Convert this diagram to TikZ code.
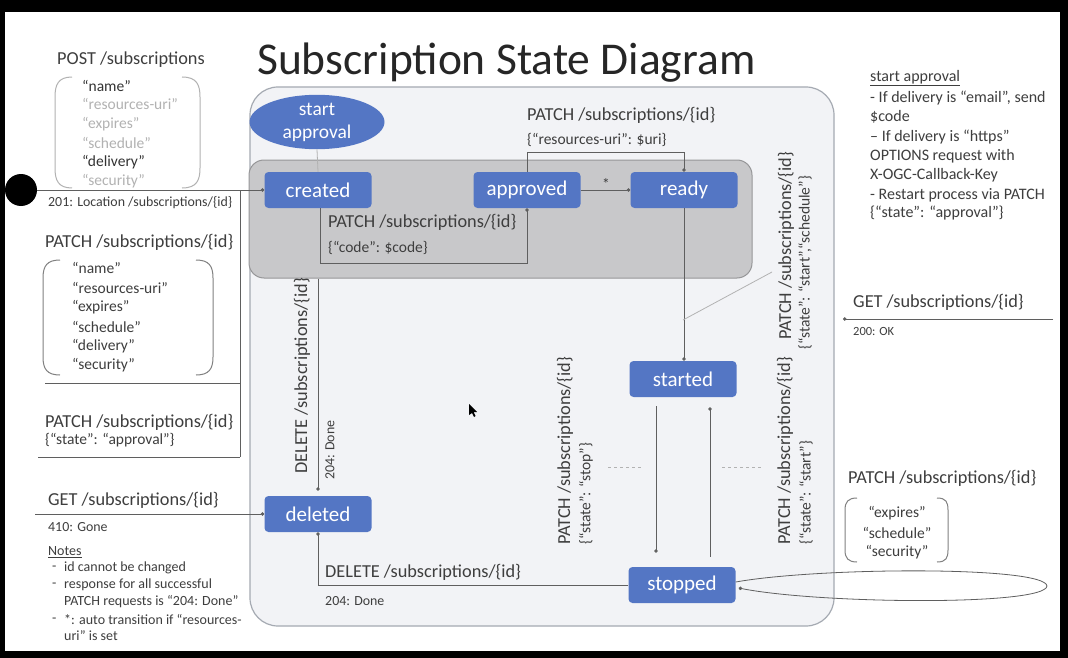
\documentclass[tikz,border=0pt]{standalone}
\usepackage{fontspec}
\setmainfont{Carlito}
\usetikzlibrary{arrows.meta,shapes.geometric}
\definecolor{stateblue}{RGB}{84,118,196}
\definecolor{txt}{RGB}{62,62,62}
\definecolor{lite}{RGB}{178,178,178}
\definecolor{lnc}{RGB}{95,95,95}
\definecolor{contfill}{RGB}{242,243,246}
\definecolor{contdraw}{RGB}{165,170,178}
\definecolor{grpfill}{RGB}{200,200,202}
\definecolor{grpdraw}{RGB}{150,150,152}
\newcommand{\fsz}[2]{\fontsize{#1}{#2}\selectfont}
\begin{document}
\begin{tikzpicture}[x=1pt,y=-1pt,
  statebox/.style={fill=stateblue, rounded corners=4pt, minimum width=107pt, minimum height=36pt, text=white, font=\fsz{21}{25}, inner sep=0pt},
  lbl/.style={text=txt, anchor=west, inner sep=0pt, font=\fsz{18.3}{21}},
  midl/.style={lbl, font=\fsz{15.5}{18}},
  smalll/.style={lbl, font=\fsz{13.9}{16}},
  notel/.style={lbl, font=\fsz{14}{16}},
  rnotel/.style={lbl, font=\fsz{16}{18}},
  conn/.style={draw=lnc, line width=0.8pt, -{Circle[length=3.5pt]}},
  plainln/.style={draw=lnc, line width=0.8pt},
  liteln/.style={draw=lite, line width=0.8pt},
  brace/.style={draw=lite, line width=1pt}
]
\useasboundingbox (0,0) rectangle (1068,658);
\fill[black] (0,0) rectangle (1068,658);
\fill[white] (5,12) rectangle (1060,651);

% title
\node[lbl, anchor=base west, font=\fsz{45.5}{50}, text=black!85] (title) at (257,75) {Subscription State Diagram};

% container
\draw[draw=contdraw, fill=contfill, line width=1.2pt, rounded corners=28pt] (250,87) rectangle (834,626);
\node[draw=grpdraw, fill=grpfill, line width=1pt, rounded corners=15pt, minimum width=503pt, minimum height=118pt, inner sep=0pt] (group) at (500.5,219) {};

% states
\node[statebox] (created) at (318,190) {created};
\node[statebox] (approved) at (527,190) {approved};
\node[statebox] (ready) at (684,190) {ready};
\node[statebox] (started) at (683,379) {started};
\node[statebox] (stopped) at (682,585) {stopped};
\node[statebox] (deleted) at (318,514) {deleted};
\node[ellipse, fill=stateblue, minimum width=135pt, minimum height=51pt, inner sep=0pt, text=white, align=center, font=\fsz{19.5}{23}] (startap) at (317,122) {start\\approval};

% initial
\node[circle, fill=black, minimum size=32pt, inner sep=0pt] (init) at (21,190) {};
\draw[conn] (init) -- (created);

% left connectors
\coordinate (lv1) at (240,190);
\coordinate (lv2) at (240,457);
\coordinate (lh1) at (45,383);
\coordinate (lh1e) at (240,383);
\coordinate (lh2) at (38,457);
\draw[plainln] (lv1) -- (lv2);
\draw[plainln] (lh1) -- (lh1e);
\draw[plainln] (lh2) -- (lv2);

% start approval to created
\draw[liteln] (startap.south) -- (created.north);

% created -> approved
\draw[conn] ([xshift=2pt]created.south) -- ([xshift=2pt]created.south |- 0,263) -| (approved.south);
% approved -> ready top
\draw[conn] (approved.north) -- (approved.north |- 0,152) -| (ready.north);
% approved -> ready
\draw[conn] (approved) -- (ready);
\node[midl, anchor=center] (star) at (606,184) {*};
% ready -> started
\draw[conn] (ready.south) -- (ready.south |- started.north);
% started <-> stopped
\draw[conn, shorten <=9pt, shorten >=14pt] ([xshift=-27pt]started.south) -- ([xshift=-27pt]started.south |- stopped.north);
\draw[conn, shorten <=10pt, shorten >=10pt] ([xshift=28pt]stopped.north) -- ([xshift=28pt]stopped.north |- started.south);
% delete edges
\draw[conn, shorten >=5pt] (group.south -| deleted) -- (deleted.north);
\draw[conn] (stopped.west) -| (deleted.south);
% GET left
\coordinate (getL) at (35,514);
\draw[conn] (getL) -- (deleted.west);
% GET right
\coordinate (getR) at (1053,319);
\coordinate (getRe) at (843,319);
\draw[conn] (getR) -- (getRe);
% stopped self loop
\draw[conn] ([yshift=3pt]stopped.east) .. controls (820,567) and (1045,566) .. (1047,586) .. controls (1045,606) and (820,604) .. ([yshift=-3pt,xshift=3pt]stopped.east);

% dashed and diagonal
\draw[liteln, dashed] (608,467) -- (643,467);
\draw[liteln, dashed] (722,467) -- (763,467);
\draw[liteln] (683,320) -- (772,272);

% labels in diagram
\node[lbl] (l1) at (328,222) {PATCH /subscriptions/\{id\}};
\node[midl] (l2) at (328,248) {\{“code”: \$code\}};
\node[lbl] (l3) at (527,115) {PATCH /subscriptions/\{id\}};
\node[midl] (l4) at (527,140) {\{“resources-uri”: \$uri\}};
\node[lbl, rotate=90] (l5) at (302,474) {DELETE /subscriptions/\{id\}};
\node[smalll, rotate=90] (l6) at (330,480) {204: Done};
\node[lbl] (l7) at (325,572) {DELETE /subscriptions/\{id\}};
\node[smalll] (l8) at (325,601) {204: Done};
\node[lbl, rotate=90] (l9) at (565,545) {PATCH /subscriptions/\{id\}};
\node[midl, rotate=90] (l10) at (586,545) {\{“state”: “stop”\}};
\node[lbl, rotate=90] (l11) at (785,545) {PATCH /subscriptions/\{id\}};
\node[midl, rotate=90] (l12) at (806,545) {\{“state”: “start”\}};
\node[lbl, rotate=90] (l13) at (786,340) {PATCH /subscriptions/\{id\}};
\node[midl, rotate=90] (l14) at (805,350) {\{“state”: “start”,“schedule”\}};

% left column
\node[lbl] (post) at (57,60) {POST /subscriptions};
\draw[brace] (72,77) .. controls (58,77) and (55,85) .. (55,97) -- (55,168) .. controls (55,180) and (58,188) .. (72,188);
\draw[brace] (182,77) .. controls (197,77) and (200,85) .. (200,97) -- (200,168) .. controls (200,180) and (197,188) .. (182,188);
\node[midl, text=black!80] (p1) at (82,86) {“name”};
\node[midl, text=lite] (p2) at (82,104) {“resources-uri”};
\node[midl, text=lite] (p3) at (82,124) {“expires”};
\node[midl, text=lite] (p4) at (82,143) {“schedule”};
\node[midl, text=black!80] (p5) at (82,162) {“delivery”};
\node[midl, text=lite] (p6) at (82,181) {“security”};
\node[smalll] (loc) at (48,203) {201: Location /subscriptions/\{id\}};

\node[lbl] (patch2) at (45,242) {PATCH /subscriptions/\{id\}};
\draw[brace, draw=gray] (60,260) .. controls (47,260) and (43,266) .. (43,278) -- (43,357) .. controls (43,369) and (47,375) .. (60,375);
\draw[brace, draw=gray] (196,260) .. controls (209,260) and (213,266) .. (213,278) -- (213,357) .. controls (213,369) and (209,375) .. (196,375);
\node[midl] (q1) at (72,268) {“name”};
\node[midl] (q2) at (72,288) {“resources-uri”};
\node[midl] (q3) at (72,307) {“expires”};
\node[midl] (q4) at (72,327) {“schedule”};
\node[midl] (q5) at (72,346) {“delivery”};
\node[midl] (q6) at (72,365) {“security”};

\node[lbl] (patch3) at (45,422) {PATCH /subscriptions/\{id\}};
\node[midl] (patch3b) at (45,440) {\{“state”: “approval”\}};

\node[lbl] (getl) at (48,500) {GET /subscriptions/\{id\}};
\node[smalll] (gone) at (48,527) {410: Gone};
\node[notel] (notes) at (48,552) {\underline{Notes}};
\node[notel] (b1) at (52,568) {-};
\node[notel] (n1) at (64,568) {id cannot be changed};
\node[notel] (b2) at (52,585) {-};
\node[notel] (n2) at (64,585) {response for all successful};
\node[notel] (n3) at (64,602) {PATCH requests is “204: Done”};
\node[notel] (b3) at (52,620) {-};
\node[notel] (n4) at (64,620) {*: auto transition if “resources-};
\node[notel] (n5) at (64,636) {uri” is set};

% right column
\node[rnotel] (ra) at (870,78) {\underline{start approval}};
\node[rnotel] (r1) at (870,98) {- If delivery is “email”, send};
\node[rnotel] (r2) at (870,117) {\$code};
\node[rnotel] (r3) at (870,137) {– If delivery is “https”};
\node[rnotel] (r4) at (870,156) {OPTIONS request with};
\node[rnotel] (r5) at (870,175) {X-OGC-Callback-Key};
\node[rnotel] (r6) at (870,195) {- Restart process via PATCH};
\node[rnotel] (r7) at (870,213) {\{“state”: “approval”\}};

\node[lbl] (getr) at (853,302) {GET /subscriptions/\{id\}};
\node[smalll, font=\fsz{12.5}{14}] (ok) at (853,331) {200: OK};

\node[lbl] (patch4) at (848,478) {PATCH /subscriptions/\{id\}};
\draw[brace, draw=gray] (857,498) .. controls (848,498) and (845,502) .. (845,510) -- (845,550) .. controls (845,558) and (848,562) .. (857,562);
\draw[brace, draw=gray] (937,498) .. controls (946,498) and (948,502) .. (948,510) -- (948,550) .. controls (948,558) and (946,562) .. (937,562);
\node[midl, anchor=center] (s1) at (897,513) {“expires”};
\node[midl, anchor=center] (s2) at (897,533) {“schedule”};
\node[midl, anchor=center] (s3) at (897,552) {“security”};

% mouse cursor
\fill[black] (469,404) -- (477,412) -- (473.5,412) -- (475.5,416) -- (474,417) -- (472,413) -- (469,415) -- cycle;
\end{tikzpicture}
\end{document}
